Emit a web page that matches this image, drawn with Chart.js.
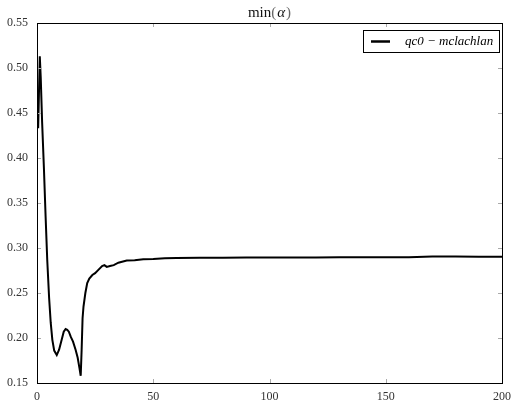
<!DOCTYPE html>
<html lang="en">
<head>
    <meta charset="UTF-8">
    <title>min(alpha)</title>
    <script src="https://cdn.jsdelivr.net/npm/chart.js"></script>
    <style>
        body { margin: 0; background: #fff; }
        canvas { display: block; }
    </style>
</head>
<body>
    <canvas id="alphaChart" width="519" height="408"></canvas>

    <script>
        // data
        const seriesLabel = 'qc0 \u2212 mclachlan';
        const xValues = [0.5, 1.2, 1.6, 2.2, 3, 3.7, 4.4, 5.2, 5.9, 6.6, 7.4, 8.5, 9.5, 10.5, 11.5, 12.3,
            13, 13.7, 14.5, 15.5, 16.6, 17.5, 18.3, 18.8, 19.2, 19.6, 20, 20.8, 21.6, 22.5, 23.8, 25,
            26.5, 28, 29, 30, 31.4, 33, 35, 38.6, 42, 45.7, 50, 55, 60, 70, 80, 90, 100, 110, 120,
            130, 140, 150, 160, 170, 180, 190, 200];
        const alphaMin = [0.433, 0.513, 0.49, 0.44, 0.387, 0.335, 0.287, 0.245, 0.217, 0.198, 0.186,
            0.181, 0.187, 0.197, 0.207, 0.210, 0.209, 0.207, 0.2015, 0.196, 0.187, 0.178, 0.166, 0.158,
            0.187, 0.222, 0.235, 0.250, 0.261, 0.266, 0.270, 0.272, 0.276, 0.280, 0.281, 0.279, 0.280,
            0.281, 0.2837, 0.286, 0.2865, 0.2874, 0.2878, 0.2886, 0.289, 0.2892, 0.2893, 0.2895, 0.2895,
            0.2894, 0.2895, 0.2896, 0.2897, 0.2898, 0.2898, 0.2905, 0.2905, 0.2903, 0.2902];
        const xTicks = [0, 50, 100, 150, 200];
        const yTicks = [0.15, 0.20, 0.25, 0.30, 0.35, 0.40, 0.45, 0.50, 0.55];

        const serif = "'Liberation Serif', 'DejaVu Serif', serif";

        // frame, inward ticks, title and boxed legend (matplotlib look)
        const framePlugin = {
            id: 'frame',
            afterDraw(chart) {
                const ctx = chart.ctx;
                const a = chart.chartArea;
                const xs = chart.scales.x, ys = chart.scales.y;
                ctx.save();

                ctx.strokeStyle = '#aaa';
                ctx.lineWidth = 1;
                ctx.beginPath();
                xTicks.forEach(v => {
                    const px = Math.round(xs.getPixelForValue(v)) + 0.5;
                    ctx.moveTo(px, a.bottom); ctx.lineTo(px, a.bottom - 4);
                    ctx.moveTo(px, a.top); ctx.lineTo(px, a.top + 4);
                });
                yTicks.forEach(v => {
                    const py = Math.round(ys.getPixelForValue(v)) + 0.5;
                    ctx.moveTo(a.left, py); ctx.lineTo(a.left + 4, py);
                    ctx.moveTo(a.right, py); ctx.lineTo(a.right - 4, py);
                });
                ctx.stroke();

                ctx.strokeStyle = '#000';
                ctx.strokeRect(Math.round(a.left) + 0.5, Math.round(a.top) + 0.5,
                    Math.round(a.right - a.left), Math.round(a.bottom - a.top));

                // title: min( + italic alpha + )
                const cx = (a.left + a.right) / 2;
                ctx.textBaseline = 'middle';
                ctx.textAlign = 'left';
                const partA = 'min(', partB = '\u03b1', partC = ')';
                ctx.font = '15px ' + serif;
                const wA = ctx.measureText(partA).width, wC = ctx.measureText(partC).width;
                ctx.font = 'italic 15px ' + serif;
                const wB = ctx.measureText(partB).width;
                let tx = cx - (wA + wB + wC + 2) / 2;
                ctx.fillStyle = '#111';
                ctx.font = '15px ' + serif;
                ctx.fillText('min', tx, 13);
                tx += ctx.measureText('min').width;
                ctx.fillStyle = '#666';
                ctx.fillText('(', tx, 13);
                tx += ctx.measureText('(').width + 1;
                ctx.fillStyle = '#111';
                ctx.font = 'italic 15px ' + serif;
                ctx.fillText(partB, tx, 13);
                tx += wB + 1;
                ctx.fillStyle = '#666';
                ctx.font = '15px ' + serif;
                ctx.fillText(partC, tx, 13);

                // legend
                const lx = 363, ly = 30, lw = 136, lh = 22;
                ctx.fillStyle = '#fff';
                ctx.fillRect(lx, ly, lw, lh);
                ctx.strokeStyle = '#000';
                ctx.strokeRect(lx + 0.5, ly + 0.5, lw, lh);
                ctx.lineWidth = 2.5;
                ctx.beginPath();
                ctx.moveTo(371, ly + 11.5);
                ctx.lineTo(390, ly + 11.5);
                ctx.stroke();
                ctx.fillStyle = '#000';
                ctx.font = 'italic 13px ' + serif;
                ctx.textAlign = 'left';
                ctx.fillText(chart.data.datasets[0].label, 405, ly + 12);
                ctx.restore();
            }
        };

        new Chart(document.getElementById('alphaChart'), {
            type: 'line',
            data: {
                datasets: [{
                    label: seriesLabel,
                    data: xValues.map((x, i) => ({ x: x, y: alphaMin[i] })),
                    borderColor: '#000',
                    borderWidth: 2,
                    pointRadius: 0,
                    tension: 0,
                    fill: false
                }]
            },
            options: {
                responsive: false,
                animation: false,
                devicePixelRatio: 1,
                layout: { padding: { top: 23, right: 17, left: 0, bottom: 0 } },
                plugins: {
                    legend: { display: false },
                    title: { display: false },
                    tooltip: { enabled: false }
                },
                scales: {
                    x: {
                        type: 'linear',
                        min: 0,
                        max: 200,
                        afterFit: s => { s.height = 25; },
                        afterBuildTicks: s => { s.ticks = xTicks.map(v => ({ value: v })); },
                        grid: { display: false, drawTicks: false },
                        border: { display: false },
                        ticks: {
                            padding: 7,
                            color: '#333',
                            font: { family: serif, size: 12 }
                        }
                    },
                    y: {
                        min: 0.15,
                        max: 0.55,
                        afterFit: s => { s.width = 37; },
                        afterBuildTicks: s => { s.ticks = yTicks.map(v => ({ value: v })); },
                        grid: { display: false, drawTicks: false },
                        border: { display: false },
                        ticks: {
                            padding: 9,
                            color: '#333',
                            font: { family: serif, size: 12 },
                            callback: v => v.toFixed(2)
                        }
                    }
                }
            },
            plugins: [framePlugin]
        });
    </script>
</body>
</html>
